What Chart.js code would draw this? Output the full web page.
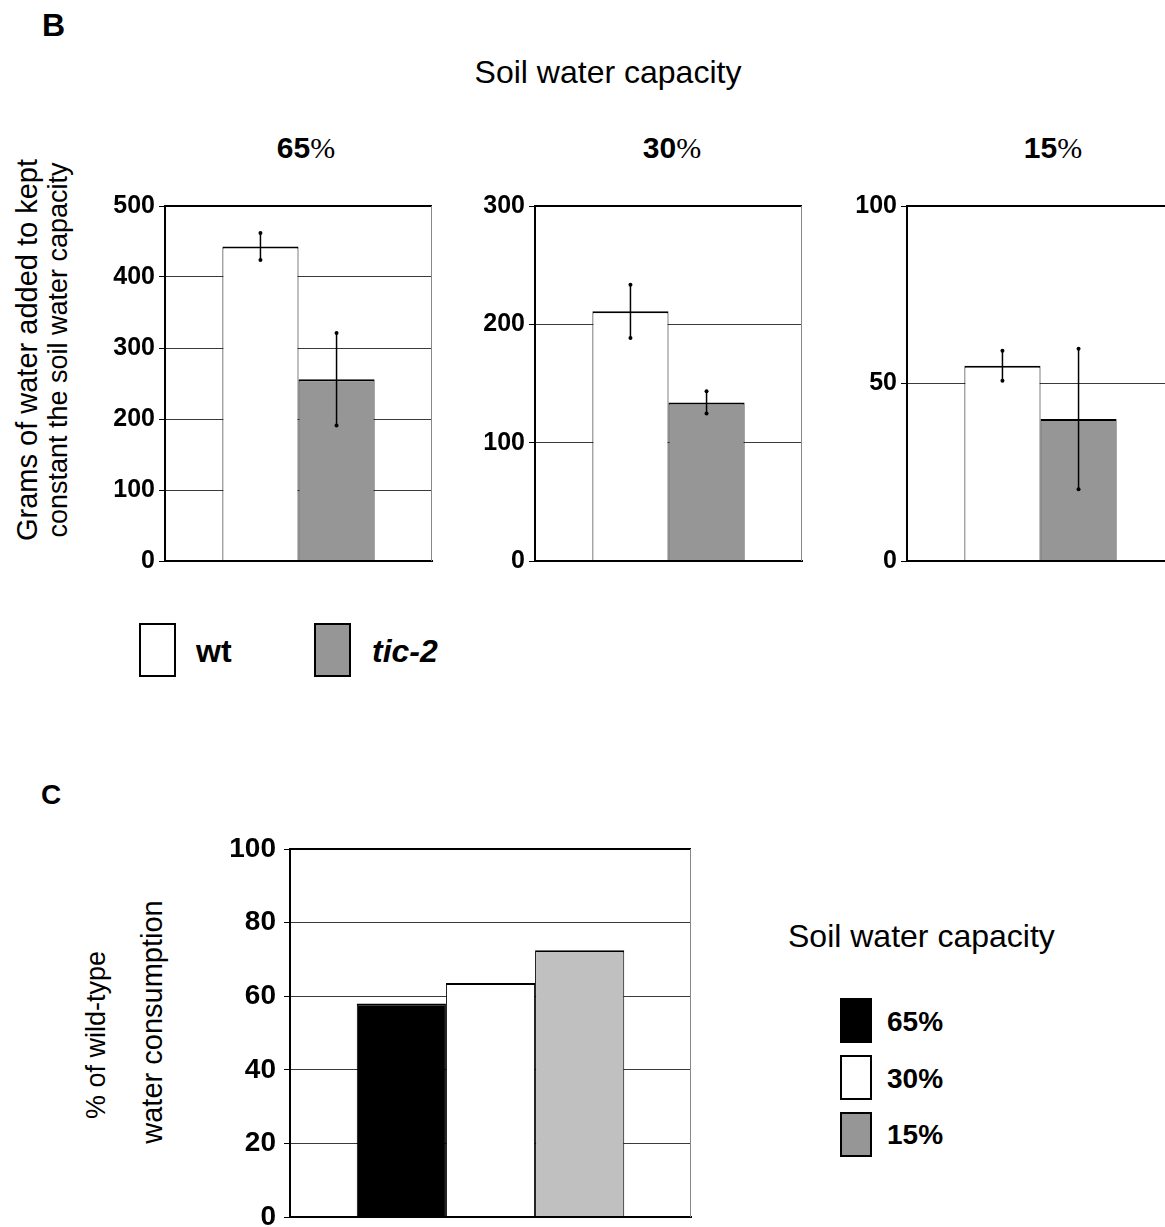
<!DOCTYPE html>
<html>
<head>
<meta charset="utf-8">
<script src="https://cdn.jsdelivr.net/npm/chart.js@4/dist/chart.umd.min.js"></script>
<style>
  html, body { margin: 0; padding: 0; background: #fff; overflow: hidden; width: 1165px; height: 1227px; }
  body { position: relative; font-family: "Liberation Sans", Arial, sans-serif; color: #000; }
  .t { position: absolute; line-height: 1; white-space: nowrap; }
  .b { font-weight: bold; }
  .pct { font-family: "Liberation Serif", "Times New Roman", serif; font-weight: normal; }
  .rot { position: absolute; line-height: 1; white-space: nowrap; transform: translate(-50%, -50%) rotate(-90deg); }
  .box { position: absolute; border: 2px solid #000; box-sizing: border-box; }
  canvas { position: absolute; }
</style>
</head>
<body>

<div class="t b" style="left:42px; top:9px; font-size:32px;">B</div>
<div class="t" style="left:608px; top:56px; font-size:32px; transform:translateX(-50%);">Soil water capacity</div>

<div class="t" style="left:306px; top:133px; font-size:30px; transform:translateX(-50%);"><span class="b">65</span><span class="pct">%</span></div>
<div class="t" style="left:672px; top:133px; font-size:30px; transform:translateX(-50%);"><span class="b">30</span><span class="pct">%</span></div>
<div class="t" style="left:1053px; top:133px; font-size:30px; transform:translateX(-50%);"><span class="b">15</span><span class="pct">%</span></div>

<div class="rot" style="left:27px; top:350px; font-size:29px;">Grams of water added to kept</div>
<div class="rot" style="left:58px; top:350px; font-size:27px;">constant the soil water capacity</div>

<canvas id="b0" width="345" height="385" style="left:100px; top:190px;"></canvas>
<canvas id="b1" width="345" height="385" style="left:470px; top:190px;"></canvas>
<canvas id="b2" width="345" height="385" style="left:842px; top:190px;"></canvas>

<div class="box" style="left:139px; top:623px; width:37px; height:54px; background:#fff;"></div>
<div class="t b" style="left:196px; top:635px; font-size:32px;">wt</div>
<div class="box" style="left:314px; top:623px; width:37px; height:54px; background:#969696;"></div>
<div class="t b" style="left:372px; top:635px; font-size:32px; font-style:italic;">tic-2</div>

<div class="t b" style="left:41px; top:781px; font-size:28px;">C</div>

<div class="rot" style="left:96px; top:1035px; font-size:27px;">% of wild-type</div>
<div class="rot" style="left:152px; top:1022px; font-size:29px;">water consumption</div>

<canvas id="c0" width="480" height="396" style="left:225px; top:833px;"></canvas>

<div class="t" style="left:788px; top:920px; font-size:32px;">Soil water capacity</div>
<div class="box" style="left:840px; top:998px; width:32px; height:45px; background:#000;"></div>
<div class="t b" style="left:887px; top:1008px; font-size:28px;">65%</div>
<div class="box" style="left:840px; top:1055px; width:32px; height:45px; background:#fff;"></div>
<div class="t b" style="left:887px; top:1065px; font-size:28px;">30%</div>
<div class="box" style="left:840px; top:1112px; width:32px; height:45px; background:#969696;"></div>
<div class="t b" style="left:887px; top:1121px; font-size:28px;">15%</div>

<script>
// panel B: grams of water per soil water capacity
const bPanels = ["65%", "30%", "15%"];
const wtValues = [443, 211, 55];
const wtErrors = [19, 22.5, 4.2];
const ticValues = [256, 134, 40];
const ticErrors = [65, 9.4, 19.8];
const bMax = [500, 300, 100];
const bStep = [100, 100, 50];

// panel C: % of wild-type water consumption
const cLabels = ["65%", "30%", "15%"];
const cValues = [58, 63.6, 72.5];
const cColors = ["#000000", "#ffffff", "#c0c0c0"];

const fontFamily = "'Liberation Sans', Arial, sans-serif";

// error bars with small dots at the ends
const errorBars = {
  id: "errorBars",
  afterDatasetsDraw(chart) {
    const ctx = chart.ctx;
    const y = chart.scales.y;
    chart.data.datasets.forEach((ds, i) => {
      if (!ds.errors) return;
      chart.getDatasetMeta(i).data.forEach((bar, j) => {
        const v = ds.data[j], e = ds.errors[j];
        const top = y.getPixelForValue(v + e);
        const bot = y.getPixelForValue(v - e);
        ctx.save();
        ctx.strokeStyle = "#000";
        ctx.fillStyle = "#000";
        ctx.lineWidth = 1.5;
        ctx.beginPath();
        ctx.moveTo(bar.x, top);
        ctx.lineTo(bar.x, bot);
        ctx.stroke();
        [top, bot].forEach(p => {
          ctx.beginPath();
          ctx.arc(bar.x, p, 2, 0, Math.PI * 2);
          ctx.fill();
        });
        ctx.restore();
      });
    });
  }
};

// top border black, right border thin gray
const frame = {
  id: "frame",
  afterDraw(chart) {
    const { ctx, chartArea: a } = chart;
    ctx.save();
    ctx.strokeStyle = "#000";
    ctx.lineWidth = 2;
    ctx.beginPath();
    ctx.moveTo(a.left, a.top);
    ctx.lineTo(a.right, a.top);
    ctx.stroke();
    ctx.strokeStyle = "#888";
    ctx.lineWidth = 1;
    ctx.beginPath();
    ctx.moveTo(a.right - 0.5, a.top);
    ctx.lineTo(a.right - 0.5, a.bottom);
    ctx.stroke();
    ctx.restore();
  }
};

function scales(max, step, fontSize, labelPad) {
  return {
    x: {
      display: true,
      ticks: { display: false },
      grid: { display: false, drawTicks: false },
      border: { display: true, color: "#000", width: 2, z: 1 },
      afterFit(s) { s.height = 0; }
    },
    y: {
      min: 0,
      max: max,
      ticks: {
        stepSize: step, color: "#000", padding: labelPad,
        font: { family: fontFamily, size: fontSize, weight: "bold" }
      },
      grid: { color: "#3a3a3a", lineWidth: 1, tickColor: "#000", tickLength: 6 },
      border: { display: true, color: "#000", width: 2, z: 1 },
      afterFit(s) {
        s.width = 65;
        s.paddingTop = 0;
        s.paddingBottom = 0;
      }
    }
  };
}

const barBorder = { top: 2, left: 1, right: 1, bottom: 0 };

bPanels.forEach((p, i) => {
  new Chart(document.getElementById("b" + i), {
    type: "bar",
    data: {
      labels: [p],
      datasets: [
        { label: "wt", data: [wtValues[i]], errors: [wtErrors[i]],
          backgroundColor: "#ffffff", borderColor: "#000", borderWidth: barBorder },
        { label: "tic-2", data: [ticValues[i]], errors: [ticErrors[i]],
          backgroundColor: "#969696", borderColor: "#000", borderWidth: barBorder }
      ]
    },
    options: {
      responsive: false,
      animation: false,
      devicePixelRatio: 1,
      categoryPercentage: 0.57,
      barPercentage: 1,
      layout: { padding: { top: 16, right: 13, bottom: 14, left: 0 } },
      plugins: { legend: { display: false }, tooltip: { enabled: false } },
      scales: scales(bMax[i], bStep[i], 25, 4)
    },
    plugins: [errorBars, frame]
  });
});

new Chart(document.getElementById("c0"), {
  type: "bar",
  data: {
    labels: [""],
    datasets: cLabels.map((l, i) => ({
      label: l,
      data: [cValues[i]],
      backgroundColor: cColors[i],
      borderColor: "#000",
      borderWidth: barBorder
    }))
  },
  options: {
    responsive: false,
    animation: false,
    devicePixelRatio: 1,
    categoryPercentage: 0.667,
    barPercentage: 1,
    layout: { padding: { top: 16, right: 14, bottom: 12, left: 0 } },
    plugins: { legend: { display: false }, tooltip: { enabled: false } },
    scales: scales(100, 20, 28, 8)
  },
  plugins: [frame]
});
</script>
</body>
</html>
